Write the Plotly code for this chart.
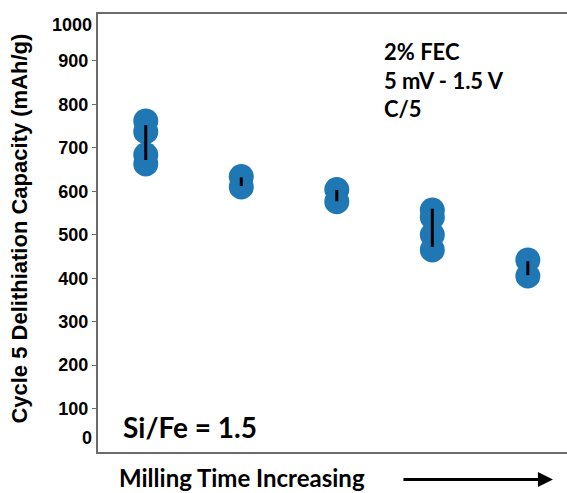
import plotly.graph_objects as go

# Data
groups = [1, 2, 3, 4, 5]
capacity = [
    [762, 737, 684, 663],
    [634, 610],
    [604, 576],
    [557, 540, 500, 465],
    [442, 405],
]
err_mean = [712, 622, 590, 516, 423]
err_half = [40, 10, 13, 44, 16]
y_tickvals = [100, 200, 300, 400, 500, 600, 700, 800, 900]
y_ticktext = ["100", "200", "300", "400", "500", "600", "700", "800", "900"]

BLUE = "#1f77b4"
AXC = "#6b6b6b"

fig = go.Figure()

xs, ys = [], []
for g, vals in zip(groups, capacity):
    for v in vals:
        xs.append(g)
        ys.append(v)

fig.add_trace(go.Scatter(
    x=xs, y=ys, mode="markers",
    marker=dict(size=25, color=BLUE, line=dict(width=0)),
    showlegend=False, hoverinfo="y",
))

fig.add_trace(go.Scatter(
    x=groups, y=err_mean, mode="markers",
    marker=dict(size=1, color="rgba(0,0,0,0)"),
    error_y=dict(type="data", array=err_half, visible=True,
                 color="black", thickness=3, width=0),
    showlegend=False, hoverinfo="skip",
))

fig.update_layout(
    width=567, height=493,
    margin=dict(l=98, r=0, t=14, b=41),
    paper_bgcolor="white", plot_bgcolor="white",
    font=dict(family="Liberation Sans, Arial", color="black"),
    xaxis=dict(
        range=[0.5, 5.41], showgrid=False, zeroline=False,
        showticklabels=False, ticks="", automargin=False,
        showline=True, linecolor=AXC, linewidth=2, mirror=True,
    ),
    yaxis=dict(
        range=[0, 1008], showgrid=False, zeroline=False, automargin=False,
        tickvals=y_tickvals, ticktext=["<b>%s</b>" % t for t in y_ticktext],
        ticks="outside", ticklen=4, tickcolor=AXC, tickwidth=1,
        tickfont=dict(size=18, family="Liberation Sans, Arial"),
        showline=True, linecolor=AXC, linewidth=2, mirror=False,
    ),
)

# y-axis title
fig.add_annotation(
    x=0.0, xref="paper", xshift=-78, y=0.51, yref="paper",
    text="<b>Cycle 5 Delithiation Capacity (mAh/g)</b>", textangle=-90,
    showarrow=False, xanchor="center", yanchor="middle",
    font=dict(size=22, family="Liberation Sans, Arial", color="black"),
)

# Offset end labels of y axis as in the reference
for txt, yv in [("1000", 983), ("0", 33)]:
    fig.add_annotation(
        x=0, xref="paper", y=yv, yref="y", text="<b>%s</b>" % txt, showarrow=False,
        xanchor="right", xshift=-4,
        font=dict(size=18, family="Liberation Sans, Arial", color="black"),
    )

fig.add_annotation(
    x=0.05, xref="paper", y=0.058, yref="paper", text="Si/Fe = 1.5",
    showarrow=False, xanchor="left", yanchor="middle",
    font=dict(size=28, family="Lato", weight="bold", color="black"),
)

fig.add_annotation(
    x=0.606, xref="paper", y=0.849, yref="paper",
    text="2% FEC<br>5 mV - 1.5 V<br>C/5",
    showarrow=False, xanchor="left", yanchor="middle", align="left",
    font=dict(size=22, family="Lato", weight="bold", color="black"),
)

fig.add_annotation(
    x=0.04, xref="paper", y=-0.058, yref="paper", text="Milling Time Increasing",
    showarrow=False, xanchor="left", yanchor="middle",
    font=dict(size=24, family="Lato", weight="bold", color="black"),
)

fig.add_annotation(
    x=0.970, xref="paper", y=-0.063, yref="paper",
    ax=-151, ay=0, axref="pixel", ayref="pixel",
    text="", showarrow=True, arrowhead=2, arrowsize=1, arrowwidth=3,
    arrowcolor="black",
)

fig.write_html(
    "out.html",
    config={"displayModeBar": False},
    post_script="document.body.style.margin='0';document.body.style.overflow='hidden';",
)
